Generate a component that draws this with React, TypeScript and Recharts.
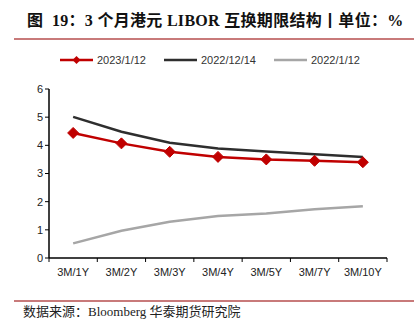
import React from "react";
import { LineChart, Line, XAxis, YAxis } from "recharts";

const tenors = ["3M/1Y", "3M/2Y", "3M/3Y", "3M/4Y", "3M/5Y", "3M/7Y", "3M/10Y"];
const s2023_01_12 = [4.44, 4.07, 3.77, 3.59, 3.5, 3.45, 3.4];
const s2022_12_14 = [5.01, 4.48, 4.09, 3.89, 3.78, 3.68, 3.59];
const s2022_01_12 = [0.52, 0.97, 1.29, 1.49, 1.58, 1.73, 1.84];
const yTicks = [0, 1, 2, 3, 4, 5, 6];
const xEdges = tenors.map((_, i) => i).concat(tenors.length);

const RED = "#c00000";
const BLACK = "#2e2e2e";
const GRAY = "#a6a6a6";
const FONT = "'Liberation Sans', Arial, sans-serif";

const chartData = tenors.map((t, i) => ({
  tenor: t,
  idx: i + 0.5,
  a: s2023_01_12[i],
  b: s2022_12_14[i],
  c: s2022_01_12[i],
}));

const CHART_W = 418;
const MARGIN = { top: 89, right: 31, bottom: 40, left: 19 };
const Y_W = 30;
const BAND = (CHART_W - MARGIN.left - MARGIN.right - Y_W) / tenors.length;

const Diamond = (props: { cx?: number; cy?: number }) => {
  const { cx, cy } = props;
  if (cx == null || cy == null) return null;
  const r = 5.5;
  return (
    <polygon
      points={`${cx},${cy - r} ${cx + r},${cy} ${cx},${cy + r} ${cx - r},${cy}`}
      fill={RED}
      stroke={RED}
    />
  );
};

const CategoryTick = (props: {
  x?: number;
  y?: number;
  payload?: { value: number };
}) => {
  const { x = 0, y = 0, payload } = props;
  const i = payload ? payload.value : 0;
  if (i >= tenors.length) return null;
  return (
    <text
      x={x + BAND / 2}
      y={y + 4}
      textAnchor="middle"
      dominantBaseline="hanging"
      fontSize={11}
      fill="#222"
      fontFamily={FONT}
    >
      {tenors[i]}
    </text>
  );
};

const legendItems = [
  { label: "2023/1/12", color: RED, marker: true },
  { label: "2022/12/14", color: BLACK, marker: false },
  { label: "2022/1/12", color: GRAY, marker: false },
];

export default function App() {
  return (
    <div
      style={{
        position: "absolute",
        left: 0,
        top: 0,
        width: 418,
        height: 328,
        background: "#fff",
        overflow: "hidden",
      }}
    >
      <div
        style={{
          position: "absolute",
          left: 27,
          top: 11,
          whiteSpace: "nowrap",
          fontFamily: "'Liberation Serif', 'Noto Sans CJK SC', serif",
          fontWeight: "bold",
          fontSize: 16,
          lineHeight: "20px",
          color: "#111",
          letterSpacing: 0.3,
        }}
      >
        图&nbsp; 19：3 个月港元 LIBOR 互换期限结构丨单位：%
      </div>
      <div
        style={{
          position: "absolute",
          left: 14,
          top: 38,
          width: 400,
          height: 2,
          background: "#c87a7a",
        }}
      />
      <div
        style={{
          position: "absolute",
          left: 60,
          top: 53,
          display: "flex",
          alignItems: "center",
          fontFamily: FONT,
          fontSize: 11,
          color: "#333",
          whiteSpace: "nowrap",
        }}
      >
        {legendItems.map((it) => (
          <div
            key={it.label}
            style={{ display: "flex", alignItems: "center", marginRight: 18 }}
          >
            <svg width={33} height={14} style={{ marginRight: 4 }}>
              <line x1={0} y1={7} x2={33} y2={7} stroke={it.color} strokeWidth={2.5} />
              {it.marker && (
                <polygon points="16.5,3 20.5,7 16.5,11 12.5,7" fill={it.color} />
              )}
            </svg>
            <span>{it.label}</span>
          </div>
        ))}
      </div>
      <div style={{ position: "absolute", left: 0, top: 0 }}>
        <LineChart width={CHART_W} height={328} data={chartData} margin={MARGIN}>
          <XAxis
            dataKey="idx"
            type="number"
            domain={[0, tenors.length]}
            ticks={xEdges}
            interval={0}
            axisLine={{ stroke: "#000", strokeWidth: 1.5 }}
            tickLine={{ stroke: "#000" }}
            tickSize={4}
            tick={<CategoryTick />}
            height={30}
          />
          <YAxis
            domain={[0, 6]}
            ticks={yTicks}
            width={Y_W}
            axisLine={{ stroke: "#000", strokeWidth: 1.5 }}
            tickLine={{ stroke: "#000" }}
            tickSize={4}
            tick={{ fontSize: 11, fill: "#222", fontFamily: FONT }}
          />
          <Line
            dataKey="c"
            stroke={GRAY}
            strokeWidth={2.5}
            dot={false}
            isAnimationActive={false}
          />
          <Line
            dataKey="b"
            stroke={BLACK}
            strokeWidth={2.5}
            dot={false}
            isAnimationActive={false}
          />
          <Line
            dataKey="a"
            stroke={RED}
            strokeWidth={2.5}
            dot={<Diamond />}
            isAnimationActive={false}
          />
        </LineChart>
      </div>
      <div
        style={{
          position: "absolute",
          left: 14,
          top: 300,
          width: 400,
          height: 2,
          background: "#c87a7a",
        }}
      />
      <div
        style={{
          position: "absolute",
          left: 23,
          top: 303,
          whiteSpace: "nowrap",
          fontFamily: "'Liberation Serif', 'Noto Sans CJK SC', serif",
          fontSize: 13,
          lineHeight: "17px",
          color: "#222",
        }}
      >
        数据来源：Bloomberg 华泰期货研究院
      </div>
    </div>
  );
}
